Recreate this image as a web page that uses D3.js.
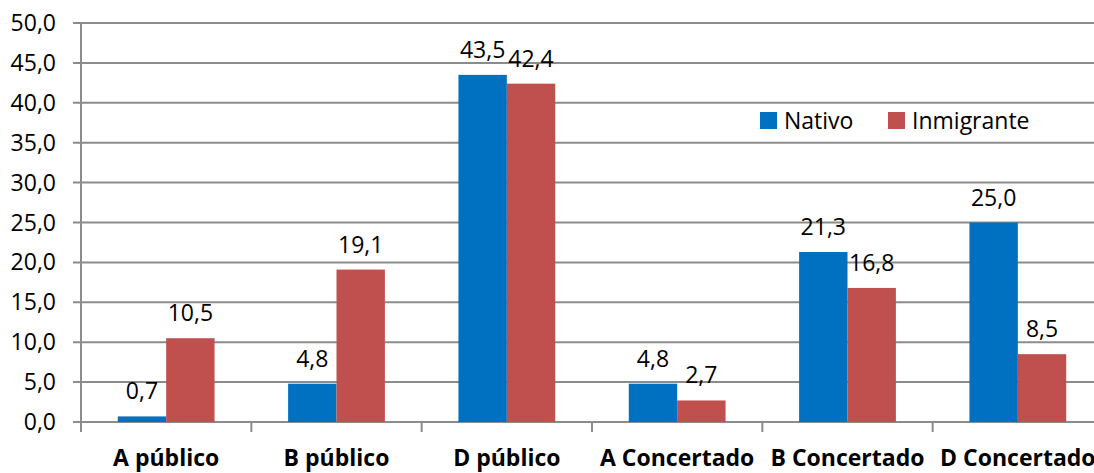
<!DOCTYPE html>
<html>
<head>
<meta charset="utf-8">
<script src="https://cdn.jsdelivr.net/npm/d3@7"></script>
<style>
  body { margin: 0; background: #fff; }
  svg text { font-family: "Open Sans", "Noto Sans", sans-serif; fill: #000; }
</style>
</head>
<body>
<div id="chart"></div>
<script>
const categories = ["A público", "B público", "D público", "A Concertado", "B Concertado", "D Concertado"];
const seriesNames = ["Nativo", "Inmigrante"];
const nativo = [0.7, 4.8, 43.5, 4.8, 21.3, 25.0];
const inmigrante = [10.5, 19.1, 42.4, 2.7, 16.8, 8.5];
const yTicks = [0, 5, 10, 15, 20, 25, 30, 35, 40, 45, 50];
const colors = ["#0070C0", "#C0504D"];

const width = 1094, height = 473;
const plotLeft = 81, plotRight = 1103, plotTop = 23, plotBottom = 422;

const svg = d3.select("#chart").append("svg")
    .attr("width", width)
    .attr("height", height);

const fmt = v => d3.format(".1f")(v).replace(".", ",");

const x = d3.scaleBand().domain(categories).range([plotLeft, plotRight]);
const xInner = d3.scaleBand().domain(seriesNames)
    .range([0, x.bandwidth()]).paddingOuter(0.76);
const y = d3.scaleLinear().domain([0, 50]).range([plotBottom, plotTop]);

// gridlines
svg.append("g")
    .selectAll("line")
    .data(yTicks)
    .join("line")
    .attr("x1", plotLeft - 8)
    .attr("x2", plotRight)
    .attr("y1", d => y(d))
    .attr("y2", d => y(d))
    .attr("stroke", "#8c8c8c")
    .attr("stroke-width", 2);

// y labels
svg.append("g")
    .selectAll("text")
    .data(yTicks)
    .join("text")
    .attr("x", 56)
    .attr("y", d => y(d))
    .attr("dy", "0.35em")
    .attr("text-anchor", "end")
    .style("font-size", "23px")
    .text(d => fmt(d));

// y axis line
svg.append("line")
    .attr("x1", plotLeft).attr("x2", plotLeft)
    .attr("y1", plotTop).attr("y2", plotBottom + 10)
    .attr("stroke", "#8c8c8c").attr("stroke-width", 2);

// category ticks
svg.append("g")
    .selectAll("line")
    .data(categories)
    .join("line")
    .attr("x1", d => x(d)).attr("x2", d => x(d))
    .attr("y1", plotBottom).attr("y2", plotBottom + 10)
    .attr("stroke", "#8c8c8c").attr("stroke-width", 2);

const rows = categories.map((c, i) => ({ cat: c, values: [nativo[i], inmigrante[i]] }));

const groups = svg.append("g")
    .selectAll("g")
    .data(rows)
    .join("g")
    .attr("transform", d => `translate(${x(d.cat)},0)`);

groups.selectAll("rect")
    .data(d => d.values.map((v, j) => ({ name: seriesNames[j], v, j })))
    .join("rect")
    .attr("x", d => xInner(d.name))
    .attr("width", xInner.bandwidth())
    .attr("y", d => y(d.v))
    .attr("height", d => y(0) - y(d.v))
    .attr("fill", d => colors[d.j]);

groups.selectAll("text")
    .data(d => d.values.map((v, j) => ({ name: seriesNames[j], v, j })))
    .join("text")
    .attr("x", d => xInner(d.name) + xInner.bandwidth() / 2)
    .attr("y", d => y(d.v) - 17)
    .attr("text-anchor", "middle")
    .style("font-size", "23px")
    .text(d => fmt(d.v));

// category labels
svg.append("g")
    .selectAll("text")
    .data(categories)
    .join("text")
    .attr("x", d => x(d) + x.bandwidth() / 2)
    .attr("y", 466)
    .attr("text-anchor", "middle")
    .style("font-size", "23px")
    .style("font-weight", "bold")
    .text(d => d);

// legend
const legend = svg.append("g").attr("transform", "translate(760,112)");
const legendX = [0, 128];
seriesNames.forEach((name, i) => {
    legend.append("rect")
        .attr("x", legendX[i]).attr("y", 0)
        .attr("width", 17).attr("height", 17)
        .attr("fill", colors[i]);
    legend.append("text")
        .attr("x", legendX[i] + 24).attr("y", 9)
        .attr("dy", "0.35em")
        .style("font-size", "23px")
        .text(name);
});
</script>
</body>
</html>
